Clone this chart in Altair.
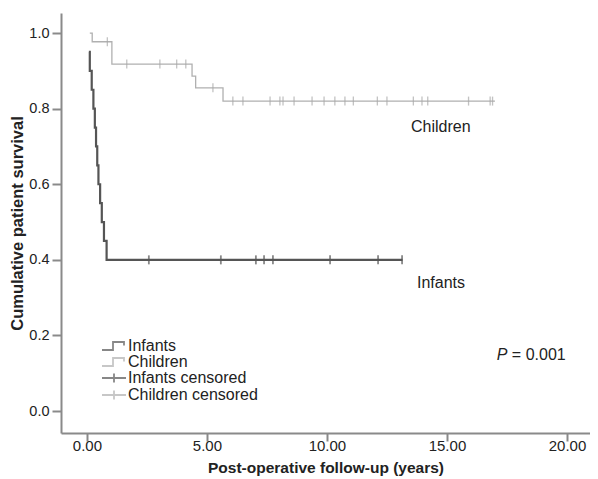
import altair as alt
import pandas as pd

# ---- data ----
infant_time = [0.08, 0.12, 0.20, 0.27, 0.33, 0.38, 0.43, 0.48, 0.55, 0.62, 0.71, 0.82, 13.15]
infant_surv = [0.95, 0.90, 0.85, 0.80, 0.75, 0.70, 0.65, 0.60, 0.55, 0.50, 0.45, 0.40, 0.40]
infant_cens_time = [2.58, 5.58, 7.04, 7.38, 7.75, 10.13, 12.13, 13.13]
infant_cens_surv = [0.40] * 8

child_time = [0.12, 0.22, 1.04, 4.38, 4.53, 5.67, 17.0]
child_surv = [1.0, 0.977, 0.918, 0.886, 0.855, 0.82, 0.82]
child_cens_time = [0.85, 1.66, 3.04, 3.74, 4.12, 5.25, 6.08, 6.5, 7.63, 8.04, 8.17, 8.63,
                   9.38, 9.88, 10.33, 10.75, 11.1, 12.1, 12.5, 13.6, 13.96, 14.2, 15.9, 16.8, 16.9]
child_cens_surv = [0.977] + [0.918] * 4 + [0.855] + [0.82] * 19

label_text = ["Children", "Infants"]
label_x = [13.5, 13.75]
label_y = [0.751, 0.339]

p_x = [17.08]
p_y = [0.148]

legend_names = ["Infants", "Children", "Infants censored", "Children censored"]
legend_colors = ["#555555", "#b0b0b0", "#555555", "#b0b0b0"]
step_path = "M-2.4,0.8 H-0.2 V-0.8 H2.0 V-0.1"
cross_path = "M-2.4,0 H2.4 M0,-0.9 V0.9"
legend_shapes = [step_path, step_path, cross_path, cross_path]

x_ticks = [0, 5, 10, 15, 20]
y_ticks = [0.0, 0.2, 0.4, 0.6, 0.8, 1.0]

FONT = "Liberation Sans"
X_DOM = [-1.08, 20.96]
Y_DOM = [-0.058, 1.053]

inf_df = pd.DataFrame({"t": infant_time, "s": infant_surv})
ch_df = pd.DataFrame({"t": child_time, "s": child_surv})
inf_c = pd.DataFrame({"t": infant_cens_time, "s": infant_cens_surv})
ch_c = pd.DataFrame({"t": child_cens_time, "s": child_cens_surv})
lab_df = pd.DataFrame({"text": label_text, "x": label_x, "y": label_y})
p_df = pd.DataFrame({"x": p_x, "y": p_y})
leg_df = pd.DataFrame({"series": legend_names})

xenc = alt.X("t:Q", scale=alt.Scale(domain=X_DOM, nice=False, zero=False),
             axis=alt.Axis(values=x_ticks, format=".2f", title="Post-operative follow-up (years)",
                           titleY=27, titleBaseline="top", titleFontSize=15.5,
                           labelFontSize=15, tickSize=8, labelPadding=-3))
yenc = alt.Y("s:Q", scale=alt.Scale(domain=Y_DOM, nice=False, zero=False),
             axis=alt.Axis(values=y_ticks, format=".1f", title="Cumulative patient survival",
                           titleX=-44, titleY=210, titleAngle=-90, titleAlign="center",
                           titleBaseline="middle", titleFontSize=16.5,
                           labelFontSize=14.5, tickSize=9, labelPadding=3))

child_line = alt.Chart(ch_df).mark_line(interpolate="step-after", color="#b0b0b0",
                                        strokeWidth=1.3).encode(x=xenc, y=yenc)
inf_line = alt.Chart(inf_df).mark_line(interpolate="step-after", color="#555555",
                                       strokeWidth=2.2).encode(x="t:Q", y="s:Q")
child_ticks = alt.Chart(ch_c).mark_tick(orient="vertical", color="#a8a8a8", size=9,
                                        thickness=1.3).encode(x="t:Q", y="s:Q")
inf_ticks = alt.Chart(inf_c).mark_tick(orient="vertical", color="#555555", size=9,
                                       thickness=1.8).encode(x="t:Q", y="s:Q")

labels = alt.Chart(lab_df).mark_text(align="left", baseline="middle", font=FONT, fontSize=16,
                                     color="#222222").encode(x="x:Q", y="y:Q", text="text:N")
p_italic = alt.Chart(p_df).mark_text(align="left", baseline="middle", font=FONT, fontSize=16,
                                     fontStyle="italic", color="#222222", text="P").encode(x="x:Q", y="y:Q")
p_rest = alt.Chart(p_df).mark_text(align="left", baseline="middle", font=FONT, fontSize=16,
                                   dx=15, color="#222222", text="= 0.001").encode(x="x:Q", y="y:Q")

legend_layer = alt.Chart(leg_df).mark_point(filled=False).encode(
    color=alt.Color("series:N", scale=alt.Scale(domain=legend_names, range=legend_colors),
                    legend=alt.Legend(title=None, orient="none", legendX=45, legendY=325,
                                      symbolSize=100, symbolStrokeWidth=1.8, labelFontSize=16,
                                      labelFont=FONT, labelColor="#222222", labelOffset=6,
                                      rowPadding=-2, padding=0, symbolFillColor="transparent")),
    shape=alt.Shape("series:N", scale=alt.Scale(domain=legend_names, range=legend_shapes)),
).transform_filter("false")

chart = alt.layer(child_line, inf_line, child_ticks, inf_ticks, labels, p_italic, p_rest,
                  legend_layer).properties(
    width=529, height=420,
    autosize=alt.AutoSizeParams(type="none"),
    padding={"left": 53, "top": 5, "right": 0, "bottom": 45},
).configure_view(stroke=None).configure_axis(
    grid=False, domainColor="#8a8a8a", domainWidth=2, tickColor="#8a8a8a", tickWidth=2,
    labelFont=FONT, labelColor="#222222",
    titleFont=FONT, titleFontWeight="bold", titleColor="#222222",
)

chart.save("out.html", embed_options={"renderer": "svg", "actions": False})
